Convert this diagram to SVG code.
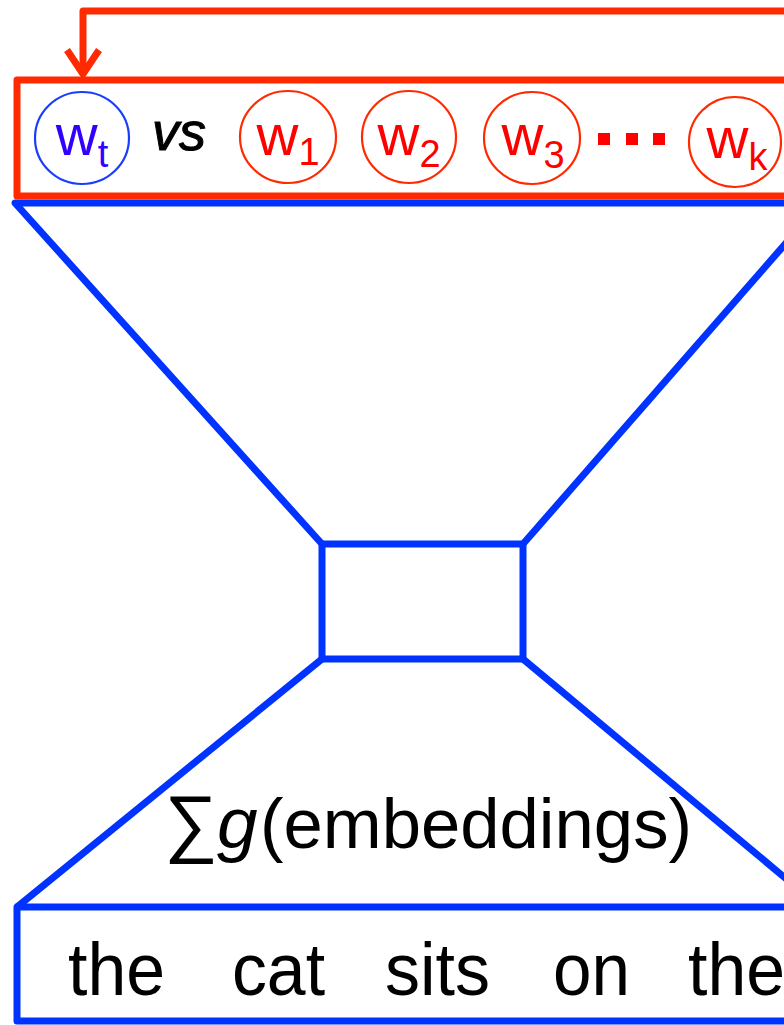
<svg xmlns="http://www.w3.org/2000/svg" width="784" height="1025" viewBox="0 0 784 1025">
<style>
.red{fill:none;stroke:#ff2a00;stroke-width:7;stroke-linejoin:round}
.blue{fill:none;stroke:#0033ff;stroke-width:7;stroke-linejoin:round}
.rc{fill:#fff;stroke:#ff2a00;stroke-width:2.2}
.bc{fill:#fff;stroke:#1a3cff;stroke-width:2.2}
.t{font-family:"Liberation Sans",Arial,sans-serif}
.w{font-size:58px;fill:#ff0000;text-anchor:middle}
.sub{font-size:38px}
.word{font-size:74px;fill:#000}
</style>
<rect width="784" height="1025" fill="#fff"/>
<g id="connectors">
<path class="red" d="M 830 11 H 83 V 74"/>
<path class="red" d="M 67 50 L 83 74 L 99 50"/>
<path class="blue" d="M 830 203 H 15 L 322 544"/>
<path class="blue" d="M 523 544 L 821 203"/>
<path class="blue" d="M 322 659 L 17 907"/>
<path class="blue" d="M 523 659 L 820 907"/>
</g>
<g id="candidates">
<path class="red" d="M 830 80 H 17 V 196 H 830"/>
</g>
<g id="wt">
<ellipse class="bc" cx="82" cy="138" rx="47" ry="46"/>
<text class="t w" x="82" y="155" style="fill:#3300ff">w<tspan class="sub" dy="12">t</tspan></text>
</g>
<g id="vs">
<text class="t" x="152" y="150" font-size="54" font-style="italic" fill="#000" stroke="#000" stroke-width="1">vs</text>
</g>
<g id="w1">
<ellipse class="rc" cx="288" cy="137" rx="48" ry="46"/>
<text class="t w" x="288" y="155">w<tspan class="sub" dy="10">1</tspan></text>
</g>
<g id="w2">
<ellipse class="rc" cx="409" cy="137" rx="47" ry="46"/>
<text class="t w" x="409" y="155">w<tspan class="sub" dy="12">2</tspan></text>
</g>
<g id="w3">
<ellipse class="rc" cx="532" cy="138" rx="48" ry="46"/>
<text class="t w" x="533" y="155">w<tspan class="sub" dy="13">3</tspan></text>
</g>
<g id="dots" fill="#ff0000">
<rect x="598" y="133" width="12" height="12"/>
<rect x="626" y="133" width="12" height="12"/>
<rect x="653" y="133" width="12" height="12"/>
</g>
<g id="wk">
<ellipse class="rc" cx="735" cy="142" rx="46" ry="45"/>
<text class="t w" x="737" y="158">w<tspan class="sub" dy="12">k</tspan></text>
</g>
<g id="hidden">
<rect class="blue" x="322" y="544" width="201" height="115"/>
</g>
<g id="sum">
<text class="t" y="848" font-size="70" fill="#000"><tspan x="164" font-size="75">∑</tspan><tspan x="217" font-style="italic" font-size="73">g</tspan><tspan x="260" textLength="432" lengthAdjust="spacingAndGlyphs">(embeddings)</tspan></text>
</g>
<g id="context">
<path class="blue" d="M 830 907 H 17 V 1021 H 830"/>
<text class="t word" x="68" y="995" textLength="97" lengthAdjust="spacingAndGlyphs">the</text>
<text class="t word" x="232" y="995" textLength="93" lengthAdjust="spacingAndGlyphs">cat</text>
<text class="t word" x="385" y="995" textLength="105" lengthAdjust="spacingAndGlyphs">sits</text>
<text class="t word" x="553" y="995" textLength="77" lengthAdjust="spacingAndGlyphs">on</text>
<text class="t word" x="688" y="995" textLength="97" lengthAdjust="spacingAndGlyphs">the</text>
</g>
</svg>
